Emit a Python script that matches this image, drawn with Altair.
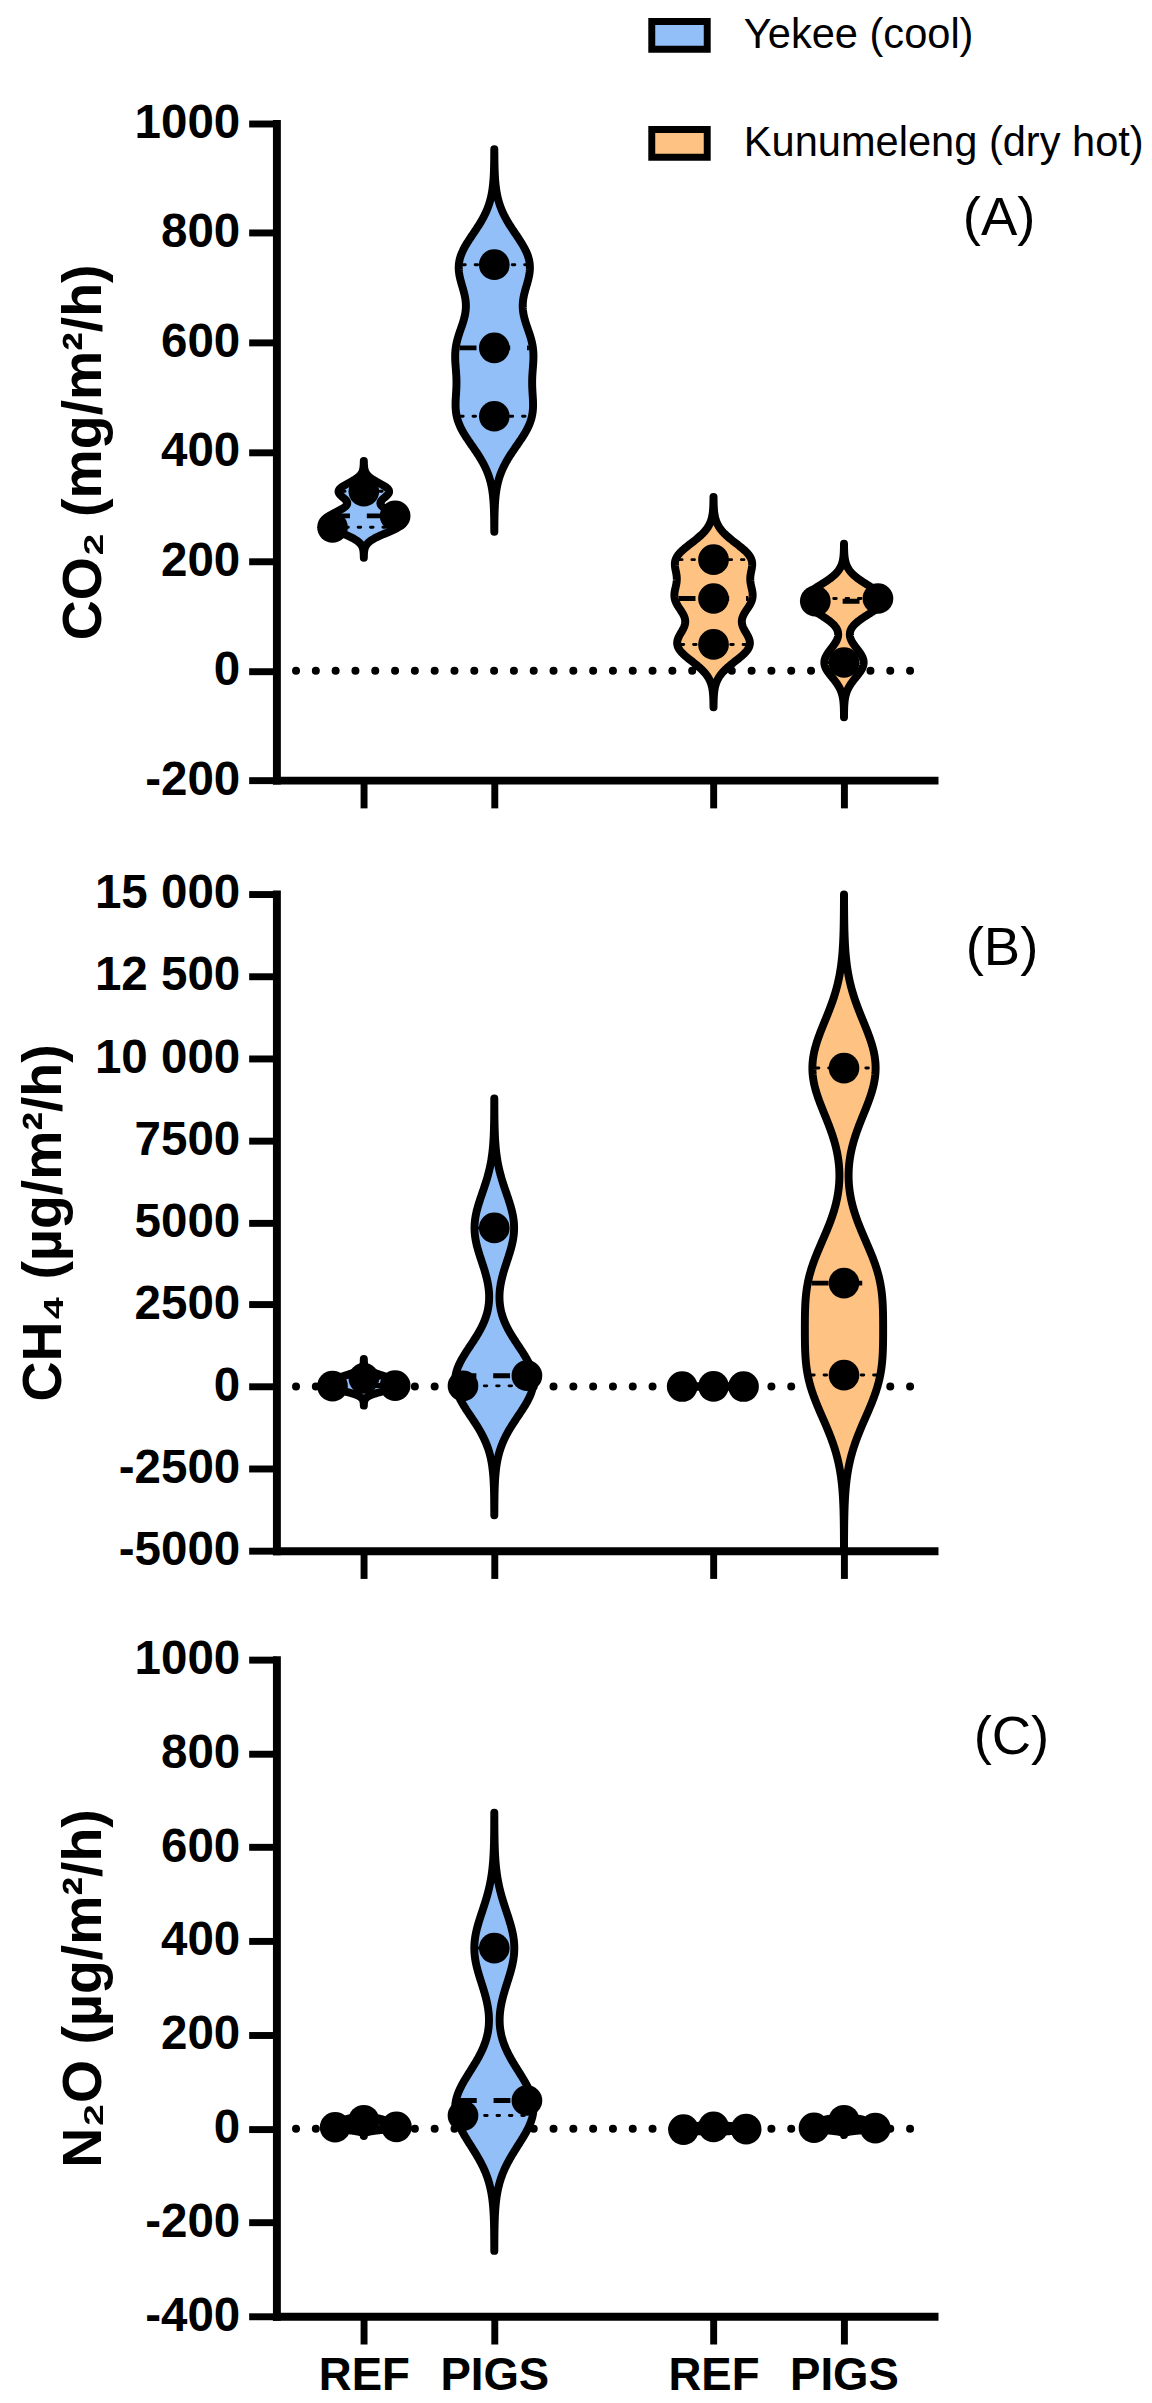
import json
import numpy as np
import pandas as pd
import altair as alt

FONT = "Liberation Sans"

# ---------------- data ----------------
sites = ["Yekee (cool)", "Kunumeleng (dry hot)"]
site_colors = ["#92BFF7", "#FEC282"]
treatments = ["REF", "PIGS", "REF", "PIGS"]
group_sites = [sites[0], sites[0], sites[1], sites[1]]
group_pos = [1.0, 2.0, 3.68, 4.68]

# (A) CO2, mg/m2/h
co2_yekee_ref = [262, 283, 328]
co2_yekee_pigs = [465, 590, 742]
co2_kun_ref = [48, 132, 203]
co2_kun_pigs = [15, 127, 132]
# (B) CH4, ug/m2/h
ch4_yekee_ref = [10, 250, 30]
ch4_yekee_pigs = [20, 330, 4830]
ch4_kun_ref = [0, 5, 0]
ch4_kun_pigs = [350, 3150, 9700]
# (C) N2O, ug/m2/h
n2o_yekee_ref = [3, 18, 4]
n2o_yekee_pigs = [28, 60, 385]
n2o_kun_ref = [-2, 4, -1]
n2o_kun_pigs = [2, 18, 1]

# horizontal scatter of the points inside each violin (x units)
co2_jitter = [[-0.24, 0.24, 0.0], [0, 0, 0], [0, 0, 0], [0.0, -0.22, 0.26]]
ch4_jitter = [[-0.24, 0.0, 0.24], [-0.24, 0.25, 0.0], [-0.24, 0.0, 0.23], [0, 0, 0]]
n2o_jitter = [[-0.22, 0.0, 0.25], [-0.24, 0.25, 0.0], [-0.23, 0.0, 0.25], [-0.23, 0.0, 0.24]]

# kernel bandwidths of the violins (value units)
co2_bw = [15, 57, 31, 27]
ch4_bw = [160, 1065, 4, 1430]
n2o_bw = [5, 78, 3, 4]

panel_tags = ["(A)", "(B)", "(C)"]

# ---------------- geometry / style ----------------
PW, PH = 664, 663
XDOM = [0.33, 5.37]
PXU = PW / (XDOM[1] - XDOM[0])
HALF = 0.30            # max half width of a violin, x units
INSET = 4.0 / PXU      # stroke inset for median / quartile lines
TAIL = 3.7             # tails in bandwidths


def density_fn(vals, bw):
    v = np.asarray(vals, float)

    def f(y):
        y = np.atleast_1d(np.asarray(y, float))
        return np.exp(-0.5 * ((y[:, None] - v[None, :]) / bw) ** 2).sum(axis=1)
    return f


def gp_quantile(vals, p):
    s = sorted(vals)
    n = len(s)
    r = (n + 1) * p
    if r <= 1:
        return s[0]
    if r >= n:
        return s[-1]
    lo = int(np.floor(r))
    fr = r - lo
    return s[lo - 1] + fr * (s[lo] - s[lo - 1])


def make_panel(groups, bws, jitters, ydomain, ystep, ytitle, label_expr,
               tag, tag_xy, show_xlabels, with_legend, top_pad):
    area_frames, line_rows, dot_rows = [], [], []
    for gi, (vals, bw, jit) in enumerate(zip(groups, bws, jitters)):
        pos = group_pos[gi]
        f = density_fn(vals, bw)
        ys = np.linspace(min(vals) - TAIL * bw, max(vals) + TAIL * bw, 401)
        d = f(ys)
        m = d.max()
        w = HALF * d / m
        area_frames.append(pd.DataFrame({"y": ys, "x0": pos - w, "x1": pos + w}))
        for p in (0.25, 0.5, 0.75):
            q = gp_quantile(vals, p)
            hw = max(HALF * f(q)[0] / m - INSET, 0.0)
            line_rows.append(dict(kind="median" if p == 0.5 else "quartile",
                                  y=q, x0=pos - hw, x1=pos + hw))
        for v, j in zip(vals, jit):
            dot_rows.append(dict(x=pos + j, y=v))

    line_df = pd.DataFrame(line_rows)
    dot_df = pd.DataFrame(dot_rows)
    zero_df = pd.DataFrame({"x0": [0.48], "x1": [5.31], "y": [0]})
    tag_df = pd.DataFrame({"tag": [tag]})

    xaxis = alt.Axis(values=group_pos, title=None, grid=False,
                     labels=show_xlabels,
                     labelExpr=f"{json.dumps(treatments)}[indexof({json.dumps(group_pos)}, datum.value)]",
                     labelFont=FONT, labelFontSize=46, labelFontWeight="bold",
                     labelColor="black", labelPadding=10, labelFlush=False,
                     labelOverlap=False,
                     domainColor="black", domainWidth=8, domainCap="square",
                     tickColor="black", tickWidth=7, tickSize=28)
    yaxis = alt.Axis(values=list(range(ydomain[0], ydomain[1] + 1, ystep)),
                     title=ytitle, grid=False, labelExpr=label_expr,
                     labelFont=FONT, labelFontSize=48, labelFontWeight="bold",
                     labelColor="black", labelPadding=9, labelFlush=False,
                     labelOverlap=False,
                     titleFont=FONT, titleFontSize=56, titleFontWeight="bold",
                     titleColor="black", titlePadding=22,
                     domainColor="black", domainWidth=8, domainCap="square",
                     tickColor="black", tickWidth=7, tickSize=28)
    xs = alt.Scale(domain=XDOM, nice=False, zero=False)
    ysc = alt.Scale(domain=ydomain, nice=False, zero=False)

    def X(field):
        return alt.X(field, type="quantitative", scale=xs, axis=xaxis)

    def Y(field):
        return alt.Y(field, type="quantitative", scale=ysc, axis=yaxis)

    layers = []
    layers.append(alt.Chart(zero_df).mark_rule(
        color="black", strokeWidth=8, strokeDash=[0.1, 19.9], strokeCap="round"
    ).encode(x=X("x0"), x2="x1", y=Y("y")))

    for gi, adf in enumerate(area_frames):
        col = site_colors[sites.index(group_sites[gi])]
        layers.append(alt.Chart(adf).mark_area(
            orient="horizontal", fill=col, stroke="black", strokeWidth=8,
            strokeJoin="round", opacity=1, fillOpacity=1
        ).encode(y=Y("y"), x=X("x0"), x2="x1"))

    layers.append(alt.Chart(line_df).transform_filter("datum.kind == 'quartile'").mark_rule(
        color="black", strokeWidth=3, strokeDash=[2.5, 10], strokeCap="round"
    ).encode(x=X("x0"), x2="x1", y=Y("y")))
    layers.append(alt.Chart(line_df).transform_filter("datum.kind == 'median'").mark_rule(
        color="black", strokeWidth=5, strokeDash=[17, 17]
    ).encode(x=X("x0"), x2="x1", y=Y("y")))

    layers.append(alt.Chart(dot_df).mark_circle(size=960, color="black", opacity=1).encode(
        x=X("x"), y=Y("y")))

    layers.append(alt.Chart(tag_df).mark_text(
        font=FONT, fontSize=55, align="left", baseline="alphabetic", color="black"
    ).encode(text="tag:N", x=alt.value(tag_xy[0]), y=alt.value(tag_xy[1])))

    if top_pad is not None:
        # invisible spacer that sets the gap above this panel
        layers.append(alt.Chart(pd.DataFrame({"k": [0]})).mark_point(
            opacity=0, size=1).encode(x=alt.value(0), y=alt.value(-top_pad)))

    if with_legend:
        legend = alt.Legend(title=None, orient="none", legendX=386, legendY=-110,
                            direction="vertical",
                            symbolType="M-2,-1H2V1H-2Z", symbolSize=784,
                            symbolStrokeColor="black", symbolStrokeWidth=7,
                            symbolOpacity=1,
                            labelFont=FONT, labelFontSize=42, labelColor="black",
                            labelLimit=2000, labelOffset=44, rowPadding=53, padding=0)
        leg_df = pd.DataFrame({"site": sites})
        layers.append(alt.Chart(leg_df).mark_point(opacity=0, filled=True).encode(
            fill=alt.Fill("site:N", scale=alt.Scale(domain=sites, range=site_colors),
                          legend=legend)))

    return alt.layer(*layers).properties(width=PW, height=PH)


plain = "toString(datum.value)"
spaced = ("abs(datum.value) >= 10000 ? floor(datum.value/1000) + ' ' + "
          "(datum.value % 1000 == 0 ? '000' : toString(datum.value % 1000)) : toString(datum.value)")

pa = make_panel([co2_yekee_ref, co2_yekee_pigs, co2_kun_ref, co2_kun_pigs], co2_bw, co2_jitter,
                [-200, 1000], 200, "CO₂ (mg/m²/h)", plain, panel_tags[0], (693, 113),
                False, True, None)
pb = make_panel([ch4_yekee_ref, ch4_yekee_pigs, ch4_kun_ref, ch4_kun_pigs], ch4_bw, ch4_jitter,
                [-5000, 15000], 2500, "CH₄ (µg/m²/h)", spaced, panel_tags[1], (696, 72),
                False, False, 40)
pc = make_panel([n2o_yekee_ref, n2o_yekee_pigs, n2o_kun_ref, n2o_kun_pigs], n2o_bw, n2o_jitter,
                [-400, 1000], 200, "N₂O (µg/m²/h)", plain, panel_tags[2], (704, 95),
                True, False, 35)

chart = alt.vconcat(pa, pb, pc, spacing=42).resolve_scale(
    fill="independent").resolve_legend(fill="independent").properties(
    padding={"left": 8, "top": -5, "right": 0, "bottom": 0}
).configure_view(stroke=None)

chart.save("out.html", embed_options={"renderer": "svg", "actions": False})
